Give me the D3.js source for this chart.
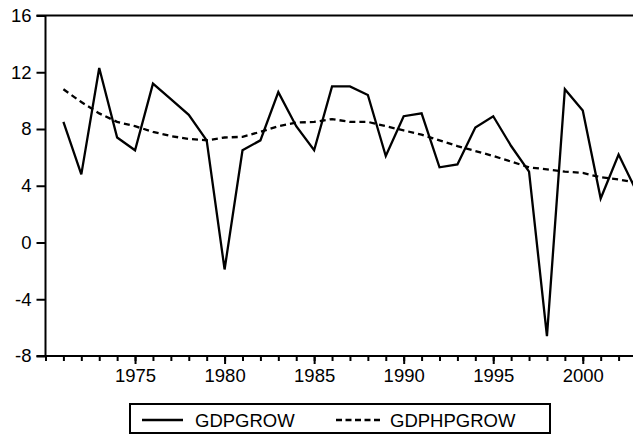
<!DOCTYPE html>
<html>
<head>
<meta charset="utf-8">
<script src="https://cdn.jsdelivr.net/npm/d3@7"></script>
<style>
  html, body { margin: 0; padding: 0; background: #fff; }
  svg { display: block; }
</style>
</head>
<body>
<div id="chart"></div>
<script>
// Séries annuelles 1971–2003
const years = d3.range(1971, 2004);
const gdpGrow = [8.5, 4.8, 12.3, 7.4, 6.5, 11.2, 10.1, 9.0, 7.2, -1.9,
  6.5, 7.2, 10.6, 8.2, 6.5, 11.0, 11.0, 10.4, 6.1, 8.9,
  9.1, 5.3, 5.5, 8.1, 8.9, 6.8, 5.0, -6.6, 10.8, 9.3,
  3.1, 6.2, 3.6];
const gdpHpGrow = [10.8, 9.9, 9.1, 8.5, 8.2, 7.8, 7.5, 7.3, 7.2, 7.4,
  7.45, 7.8, 8.2, 8.45, 8.5, 8.7, 8.5, 8.5, 8.2, 7.9,
  7.6, 7.2, 6.8, 6.45, 6.1, 5.7, 5.3, 5.15, 5.0, 4.9,
  4.6, 4.45, 4.2];
const yTicks = [16, 12, 8, 4, 0, -4, -8];
const xLabelYears = [1975, 1980, 1985, 1990, 1995, 2000];
const seriesNames = ['GDPGROW', 'GDPHPGROW'];

const W = 633, H = 435;
const FONT = 'Arial, "Liberation Sans", sans-serif';
const FS = 18.5;
const INK = '#000';

const svg = d3.select('#chart').append('svg')
  .attr('width', W).attr('height', H)
  .attr('viewBox', `0 0 ${W} ${H}`);

const x = d3.scaleLinear().domain([1970, 2003]).range([45.5, 636.5]);
const y = d3.scaleLinear().domain([-8, 16]).range([356, 15.5]);

// Axe Y (trait d'union simple pour les négatifs, comme l'original)
const gy = svg.append('g')
  .attr('transform', `translate(${x(1970)},0)`)
  .call(d3.axisLeft(y).tickValues(yTicks).tickSize(9).tickPadding(5)
    .tickFormat(d => String(d)).tickSizeOuter(0));
gy.select('.domain').remove();
gy.selectAll('line').attr('stroke', INK).attr('stroke-width', 2);
gy.selectAll('text').attr('font-family', FONT).attr('font-size', FS).attr('fill', INK);

// Axe X : ticks mineurs (chaque année) + majeurs avec étiquettes
const gxMinor = svg.append('g')
  .attr('transform', `translate(0,${y(-8)})`)
  .call(d3.axisBottom(x).tickValues(d3.range(1970, 2004)).tickSize(5).tickFormat('').tickSizeOuter(0));
gxMinor.select('.domain').remove();
gxMinor.selectAll('line').attr('stroke', INK).attr('stroke-width', 2);

const gxMajor = svg.append('g')
  .attr('transform', `translate(0,${y(-8)})`)
  .call(d3.axisBottom(x).tickValues(xLabelYears).tickSize(8).tickPadding(5).tickFormat(d3.format('d')).tickSizeOuter(0));
gxMajor.select('.domain').remove();
gxMajor.selectAll('line').attr('stroke', INK).attr('stroke-width', 2);
gxMajor.selectAll('text').attr('font-family', FONT).attr('font-size', FS).attr('fill', INK);

// Cadre : gauche, bas, haut (pas de bord droit visible)
const frame = svg.append('g').attr('stroke', INK).attr('stroke-width', 2).attr('fill', 'none');
frame.append('line').attr('x1', x(1970)).attr('x2', x(1970)).attr('y1', y(16)).attr('y2', y(-8));
frame.append('line').attr('x1', x(1970) - 9).attr('x2', W).attr('y1', y(-8)).attr('y2', y(-8));
frame.append('line').attr('x1', x(1970) - 9).attr('x2', W).attr('y1', y(16)).attr('y2', y(16));

// Séries
const line = d3.line().x((d, i) => x(years[i])).y(d => y(d));

svg.append('path')
  .datum(gdpHpGrow)
  .attr('d', line)
  .attr('fill', 'none')
  .attr('stroke', INK)
  .attr('stroke-width', 2.3)
  .attr('stroke-dasharray', '6,4');

svg.append('path')
  .datum(gdpGrow)
  .attr('d', line)
  .attr('fill', 'none')
  .attr('stroke', INK)
  .attr('stroke-width', 2.3)
  .attr('stroke-linejoin', 'miter');

// Légende
const lg = svg.append('g');
lg.append('rect')
  .attr('x', 130).attr('y', 404).attr('width', 420).attr('height', 29)
  .attr('fill', '#fff').attr('stroke', INK).attr('stroke-width', 2);

const legendItems = [
  { name: seriesNames[0], x1: 142, x2: 183, tx: 195, dash: null },
  { name: seriesNames[1], x1: 336, x2: 380, tx: 390, dash: '6,3.5' }
];
legendItems.forEach(it => {
  lg.append('line')
    .attr('x1', it.x1).attr('x2', it.x2)
    .attr('y1', 420).attr('y2', 420)
    .attr('stroke', INK).attr('stroke-width', 2.3)
    .attr('stroke-dasharray', it.dash);
  lg.append('text')
    .attr('x', it.tx).attr('y', 427)
    .attr('font-family', FONT).attr('font-size', FS)
    .attr('fill', INK)
    .text(it.name);
});
</script>
</body>
</html>
